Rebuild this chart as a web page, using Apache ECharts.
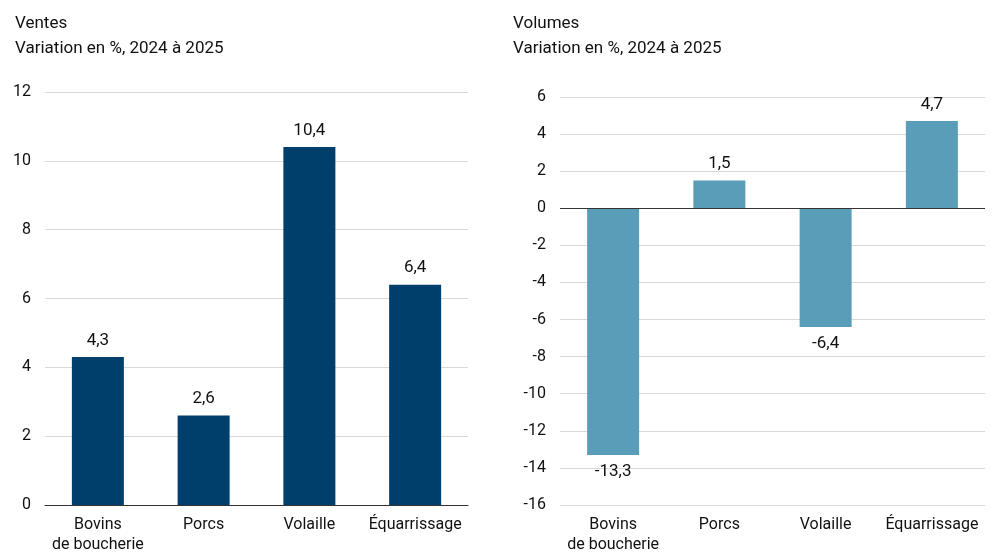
<!DOCTYPE html>
<html lang="fr">
<head>
<meta charset="UTF-8">
<title>Ventes et volumes</title>
<script src="https://cdn.jsdelivr.net/npm/echarts@6/dist/echarts.min.js"></script>
</head>
<body style="margin:0">
<div id="main" style="width:992px;height:558px;"></div>
<script type="text/javascript">
var categories = ['Bovins\nde boucherie', 'Porcs', 'Volaille', 'Équarrissage'];
var ventes = [4.3, 2.6, 10.4, 6.4];
var volumes = [-13.3, 1.5, -6.4, 4.7];

var chart = echarts.init(document.getElementById('main'));
var font = 'Roboto, "Noto Sans", sans-serif';
function fr(v) { return String(v).replace('.', ','); }

function xAxis(idx) {
    return {
        type: 'category', gridIndex: idx, data: categories,
        axisTick: { show: false },
        axisLine: { onZero: false, show: idx === 0, lineStyle: { color: '#333' } },
        axisLabel: { color: '#111', fontSize: 16, fontFamily: font, lineHeight: 20, margin: 10, interval: 0 }
    };
}
function yAxis(idx, min, max) {
    return {
        type: 'value', gridIndex: idx, min: min, max: max, interval: 2,
        axisLine: { show: false }, axisTick: { show: false },
        splitLine: { lineStyle: { color: '#d9d9d9' } },
        axisLabel: { color: '#111', fontSize: 16, fontFamily: font, margin: 14,
            formatter: function (v) { return fr(v); } }
    };
}
function lbl() {
    return { show: true, color: '#111', fontSize: 17, fontFamily: font, distance: 8,
        formatter: function (p) { return fr(p.value); } };
}

chart.setOption({
    animation: false,
    title: [
        { text: 'Ventes\nVariation en %, 2024 à 2025', left: 10, top: 6,
          textStyle: { fontSize: 17, fontWeight: 'normal', color: '#111', fontFamily: font, lineHeight: 25 } },
        { text: 'Volumes\nVariation en %, 2024 à 2025', left: 508, top: 6,
          textStyle: { fontSize: 17, fontWeight: 'normal', color: '#111', fontFamily: font, lineHeight: 25 } }
    ],
    grid: [
        { left: 45, right: 524, top: 92, bottom: 53 },
        { left: 560, right: 7, top: 97, bottom: 53 }
    ],
    xAxis: [xAxis(0), xAxis(1)],
    yAxis: [yAxis(0, 0, 12), yAxis(1, -16, 6)],
    series: [
        { type: 'bar', xAxisIndex: 0, yAxisIndex: 0, data: ventes, barWidth: 52,
          itemStyle: { color: '#003f6b' }, label: Object.assign(lbl(), { position: 'top' }) },
        { type: 'bar', xAxisIndex: 1, yAxisIndex: 1, barWidth: 52,
          data: volumes.map(function (v) {
              return { value: v, label: { position: v < 0 ? 'bottom' : 'top' } };
          }),
          itemStyle: { color: '#5a9db8' }, label: lbl(),
          markLine: { silent: true, symbol: 'none', label: { show: false },
              lineStyle: { color: '#333', type: 'solid', width: 1 },
              data: [{ yAxis: 0 }] } }
    ]
});
</script>
</body>
</html>
